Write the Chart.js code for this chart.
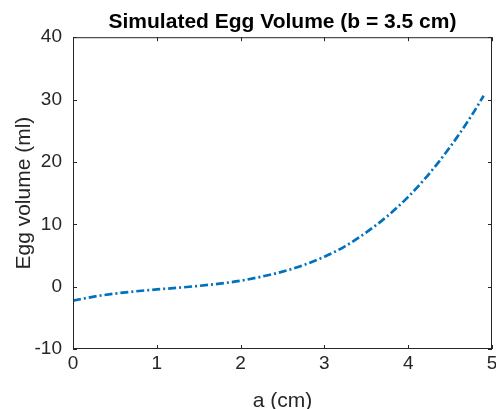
<!DOCTYPE html>
<html>
<head>
<meta charset="utf-8">
<script src="https://cdn.jsdelivr.net/npm/chart.js@4/dist/chart.umd.min.js"></script>
<style>
  html, body { margin: 0; padding: 0; background: #ffffff; }
  #wrap { width: 496px; height: 409px; }
</style>
</head>
<body>
<div id="wrap"><canvas id="eggChart" width="496" height="409"></canvas></div>
<script>
// egg length a (cm) and simulated volume (ml), b fixed at 3.5 cm
const aValues = [0, 0.25, 0.5, 0.75, 1.0, 1.25, 1.5, 1.75, 2.0, 2.25, 2.5,
                 2.75, 3.0, 3.25, 3.5, 3.75, 4.0, 4.25, 4.5, 4.75, 4.9];
const volumeValues = [-2.25, -1.6, -1.12, -0.75, -0.45, -0.18, 0.12, 0.48, 0.95, 1.6, 2.4,
                      3.45, 4.8, 6.5, 8.7, 11.3, 14.4, 18.1, 22.4, 27.3, 30.6];
const xTicks = [0, 1, 2, 3, 4, 5];
const yTicks = [-10, 0, 10, 20, 30, 40];

const axisColor = '#262626';
const fontFamily = '"Liberation Sans", Arial, Helvetica, sans-serif';

// MATLAB-style box with inward ticks on all four sides
const boxTicks = {
  id: 'boxTicks',
  afterDraw(chart) {
    const { ctx, chartArea: ca, scales } = chart;
    const len = 4;
    ctx.save();
    ctx.strokeStyle = axisColor;
    ctx.lineWidth = 1;
    ctx.strokeRect(ca.left + 0.5, ca.top + 0.5, ca.right - ca.left - 1, ca.bottom - ca.top - 1);
    ctx.beginPath();
    xTicks.forEach(v => {
      const px = Math.round(scales.x.getPixelForValue(v)) + 0.5;
      ctx.moveTo(px, ca.bottom); ctx.lineTo(px, ca.bottom - len);
      ctx.moveTo(px, ca.top); ctx.lineTo(px, ca.top + len);
    });
    yTicks.forEach(v => {
      const py = Math.round(scales.y.getPixelForValue(v)) + 0.5;
      ctx.moveTo(ca.left, py); ctx.lineTo(ca.left + len, py);
      ctx.moveTo(ca.right, py); ctx.lineTo(ca.right - len, py);
    });
    ctx.stroke();
    ctx.restore();
  }
};

const ctx = document.getElementById('eggChart').getContext('2d');

new Chart(ctx, {
  type: 'line',
  data: {
    datasets: [{
      label: 'Egg volume',
      data: aValues.map((a, i) => ({ x: a, y: volumeValues[i] })),
      borderColor: '#0072BD',
      borderWidth: 2.7,
      borderDash: [8, 3, 2, 3],
      pointRadius: 0,
      fill: false,
      cubicInterpolationMode: 'monotone'
    }]
  },
  options: {
    responsive: false,
    animation: false,
    layout: { padding: { left: 0, right: 4, top: 0, bottom: 0 } },
    plugins: {
      legend: { display: false },
      tooltip: { enabled: false },
      title: {
        display: true,
        text: 'Simulated Egg Volume (b = 3.5 cm)',
        color: '#000000',
        fullSize: false,
        font: { family: fontFamily, size: 21, weight: 'bold' },
        padding: { top: 10, bottom: 2 }
      }
    },
    scales: {
      x: {
        type: 'linear',
        min: 0,
        max: 5,
        afterBuildTicks: scale => { scale.ticks = xTicks.map(v => ({ value: v })); },
        afterFit: scale => {
          scale.height = 60;
          scale.paddingLeft = 0;
          scale.paddingRight = 0;
        },
        grid: { display: false, drawTicks: false },
        border: { display: false },
        ticks: { color: axisColor, padding: 3, font: { family: fontFamily, size: 19 } },
        title: {
          display: true,
          text: 'a (cm)',
          color: axisColor,
          font: { family: fontFamily, size: 21 },
          padding: { top: 0, bottom: -5 }
        }
      },
      y: {
        min: -10,
        max: 40,
        afterBuildTicks: scale => { scale.ticks = yTicks.map(v => ({ value: v })); },
        afterFit: scale => { scale.width = 73; },
        grid: { display: false, drawTicks: false },
        border: { display: false },
        ticks: { color: axisColor, padding: 11, font: { family: fontFamily, size: 19 } },
        title: {
          display: true,
          text: 'Egg volume (ml)',
          color: axisColor,
          font: { family: fontFamily, size: 21 },
          padding: { top: 12, bottom: 0 }
        }
      }
    }
  },
  plugins: [boxTicks]
});
</script>
</body>
</html>
